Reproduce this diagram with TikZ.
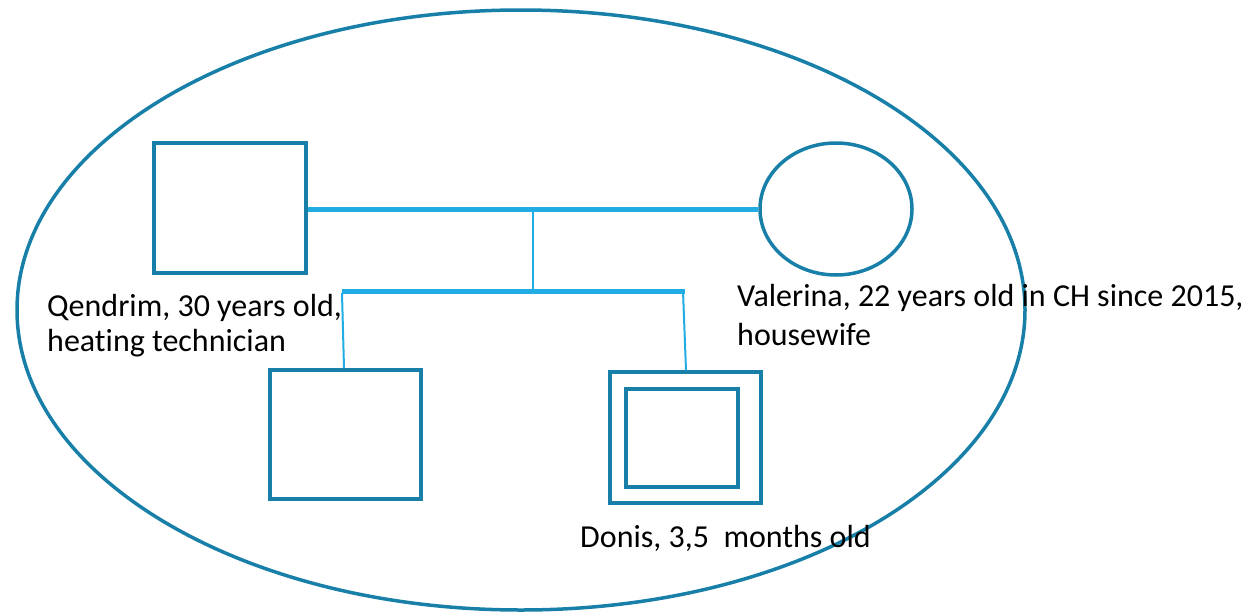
\documentclass[tikz,border=0pt]{standalone}
\usepackage{fontspec}
\setmainfont{Carlito}[Ligatures={NoCommon}]
\usetikzlibrary{shapes.geometric}
\definecolor{darkteal}{RGB}{24,128,168}
\definecolor{lightline}{RGB}{34,172,228}
\begin{document}
\begin{tikzpicture}[x=1pt,y=-1pt,
  person/.style={draw=darkteal,line width=3.5pt,rectangle,inner sep=0pt},
  female/.style={draw=darkteal,line width=3.5pt,ellipse,inner sep=0pt},
  bond/.style={draw=lightline,line width=5pt},
  thinline/.style={draw=lightline,line width=2pt},
  label/.style={anchor=base west,inner sep=0pt,font=\fontsize{32}{38}\selectfont}]
\useasboundingbox (0,0) rectangle (1248,613);
\node[draw=darkteal,line width=3.5pt,ellipse,minimum width=1008pt,minimum height=600pt,inner sep=0pt] (household) at (521,310) {};
\node[person,minimum width=152pt,minimum height=130pt] (qendrim) at (230,208) {};
\node[female,minimum width=152pt,minimum height=132pt] (valerina) at (836,209) {};
\node[person,minimum width=151pt,minimum height=129pt] (child1) at (345.5,434.5) {};
\node[person,minimum width=151pt,minimum height=131pt] (donis) at (685.5,437.5) {};
\node[person,minimum width=112pt,minimum height=98pt] (donisin) at (682,438) {};
\coordinate (mid) at (533,209);
\coordinate (sibL) at (342,291);
\coordinate (sibR) at (685,291);
\coordinate (sibM) at (533,291);
\draw[bond] (qendrim.east |- mid) -- (valerina.west |- mid);
\draw[thinline] (mid) -- (sibM);
\draw[bond] (sibL) -- (sibR);
\draw[thinline] ([yshift=-2pt]sibL) -- (child1.north -| 344,0);
\draw[thinline] ([xshift=-2pt]sibR) -- (donis.north -| 686,0);
\node[label] (qlabel) at (47,316) {Qendrim, 30 years old,};
\node[label] (qlabelb) at (47,351) {heating technician};
\node[label] (vlabel) at (737,306) {Valerina, 22 years old in CH since 2015,};
\node[label] (vlabelb) at (737,345) {housewife};
\node[label] (dlabel) at (580,547) {Donis, 3,5\ \ months old};
\end{tikzpicture}
\end{document}
